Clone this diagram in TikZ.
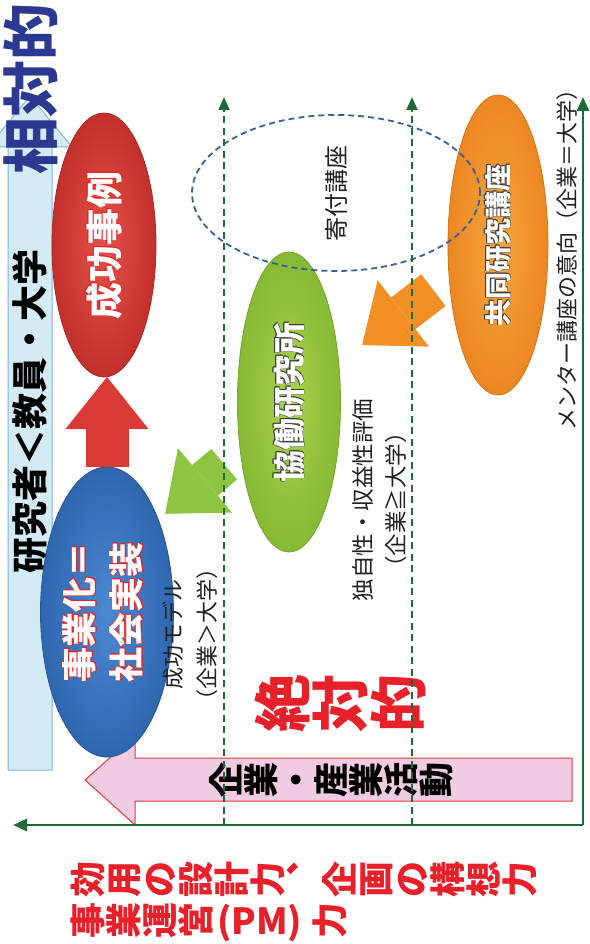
\documentclass[tikz,border=0pt]{standalone}
\usepackage{fontspec}
\usepackage{graphicx}
\newfontfamily\jp{Noto Sans CJK JP}
\usetikzlibrary{shapes.geometric,arrows.meta}

\definecolor{axgreen}{HTML}{1D6B38}
\definecolor{dashblue}{HTML}{3A6098}
\definecolor{lbfill}{HTML}{D3EBF4}
\definecolor{lbline}{HTML}{8AB2DB}
\definecolor{titleblue}{HTML}{2B3990}
\definecolor{zred}{HTML}{E8202A}
\definecolor{pinkfill}{HTML}{EFCCE1}
\definecolor{pinkline}{HTML}{E63A3C}
\definecolor{redin}{HTML}{E4524B}
\definecolor{redout}{HTML}{C3302B}
\definecolor{redline}{HTML}{A92925}
\definecolor{bluein}{HTML}{4C88D2}
\definecolor{blueout}{HTML}{2F66B0}
\definecolor{blueline}{HTML}{285797}
\definecolor{greenin}{HTML}{A7D24C}
\definecolor{greenout}{HTML}{86B934}
\definecolor{greenline}{HTML}{76A52B}
\definecolor{orangein}{HTML}{F8A53C}
\definecolor{orangeout}{HTML}{EC8722}
\definecolor{orangeline}{HTML}{D4761A}
\definecolor{arrred}{HTML}{D93A35}
\definecolor{arrgreen}{HTML}{8EC540}
\definecolor{arrorange}{HTML}{F29026}
\definecolor{olred}{HTML}{EE2222}
\definecolor{oldark}{HTML}{3C3C3C}
\definecolor{txtgray}{HTML}{231F20}

\newlength\olw
\setlength\olw{0.8pt}
\newcommand\outl[2]{\leavevmode\setbox0=\hbox{#2}%
 \rlap{\color{#1}\kern\olw\copy0}%
 \rlap{\color{#1}\kern-\olw\copy0}%
 \rlap{\color{#1}\raise\olw\copy0}%
 \rlap{\color{#1}\lower\olw\copy0}%
 \rlap{\color{#1}\kern.7\olw\raise.7\olw\copy0}%
 \rlap{\color{#1}\kern-.7\olw\raise.7\olw\copy0}%
 \rlap{\color{#1}\kern.7\olw\lower.7\olw\copy0}%
 \rlap{\color{#1}\kern-.7\olw\lower.7\olw\copy0}%
 {\color{white}\copy0}}
\def\rotstr#1{\rotstrA#1\relax}
\def\rotstrA#1{\ifx\relax#1\else\rotatebox[origin=c]{90}{\raisebox{0pt}[0.88em][0.12em]{#1}}\expandafter\rotstrA\fi}

\begin{document}
\begin{tikzpicture}[x=1pt,y=-1pt,
  every node/.style={inner sep=0pt, outer sep=0pt},
  oval/.style={ellipse, line width=0.8pt},
  blockarrow/.style={line width=40pt, draw=#1, -{Triangle[width=84pt,length=52pt,line width=0pt]}},
  axis/.style={draw=axgreen, line width=2.6pt, -{Triangle[length=14pt,width=12pt]}},
  dline/.style={draw=axgreen, line width=2pt, dash pattern=on 7pt off 4.5pt, -{Triangle[length=13pt,width=11pt]}},
  bfs/.style={font=\jp\bfseries\fontsize{#1}{#1}\selectfont},
  rgs/.style={font=\jp\fontsize{#1}{#1}\selectfont, text=txtgray},
]
\useasboundingbox (0,0) rectangle (589,944);

% left light-blue arrow
\draw[fill=lbfill, draw=lbline, line width=1pt]
  (8,770) -- (52,770) -- (52,147) -- (72,147) -- (30,96) -- (-12,147) -- (8,147) -- cycle;
\node[rotate=90, bfs=36, text=black] (kenkyu) at (30,411) {研究者＜教員・大学};
\node[rotate=90, bfs=57, text=titleblue] (sotai) at (31,89) {相対的};

% pink arrow
\draw[fill=pinkfill, draw=pinkline, line width=1pt]
  (135,758) -- (572,758) -- (572,801) -- (135,801) -- (135,825) -- (85,780) -- (135,735) -- cycle;
\node[bfs=35, text=black] (kigyo) at (331,780) {\rotstr{企業・産業活動}};

% ellipses
\node[oval, inner color=redin, outer color=redout, draw=redline,
      minimum width=104pt, minimum height=264pt, bfs=37] (seiko) at (104,245)
      {\rotatebox{90}{\outl{olred}{成功事例}}};
\node[oval, inner color=bluein, outer color=blueout, draw=blueline,
      minimum width=104pt, minimum height=290pt, font=\jp\bfseries\fontsize{35}{47}\selectfont] (jigyo) at (107,612)
      {\rotatebox{90}{\begin{tabular}{@{}c@{}}\outl{olred}{事業化＝}\\\outl{olred}{社会実装}\end{tabular}}};
\node[oval, inner color=greenin, outer color=greenout, draw=greenline,
      minimum width=103pt, minimum height=300pt, bfs=32] (kyodo) at (289,402)
      {\rotatebox{90}{\outl{oldark}{協働研究所}}};
\node[oval, inner color=orangein, outer color=orangeout, draw=orangeline,
      minimum width=100pt, minimum height=300pt, bfs=27] (kyoken) at (498,245)
      {\rotatebox{90}{\outl{oldark}{共同研究講座}}};

% block arrows
\draw[line width=43pt, draw=arrred, -{Triangle[width=83pt,length=52pt,line width=0pt]}]
  (jigyo.north) -- (jigyo.north |- seiko.south);
\draw[blockarrow=arrgreen, shorten <=21pt, shorten >=9pt] (kyodo.225) -- (jigyo.61);
\draw[blockarrow=arrorange, shorten <=20pt, shorten >=29.5pt] (kyoken.214) -- (kyodo.38);

% dashed ellipse
\node[ellipse, draw=dashblue, line width=1.8pt, dash pattern=on 6pt off 4pt,
      minimum width=288pt, minimum height=156pt, rgs=24] (kifu) at (336,193)
      {\rotatebox{90}{寄付講座}};

% texts
\node[rotate=90, rgs=22] (mentor) at (567,254) {メンター講座の意向（企業＝大学）};
\node[rotate=90, align=center, font=\jp\fontsize{22}{34}\selectfont, text=txtgray] (model) at (190,634)
  {成功モデル\\（企業＞大学）};
\node[rotate=90, align=center, font=\jp\fontsize{22.5}{33}\selectfont, text=txtgray] (dokuji) at (380,500)
  {独自性・収益性評価\\（企業≧大学）};
\node[bfs=58, text=zred] (zettai) at (340,703) {\rotstr{絶対的}};
\node[bfs=36, text=zred, anchor=west] (util) at (70,879) {\rotstr{効用の設計力︑企画の構想力}};
\node[bfs=36, text=zred, anchor=west] (pm) at (70,922) {\rotstr{事業運営}\kern3pt(PM)\kern10pt\rotstr{力}};

% axes and dashed lines
\coordinate (origin) at (583,825);
\coordinate (xend) at (13,825);
\coordinate (yend) at (583,97);
\coordinate (d1b) at (224,825);
\coordinate (d1t) at (224,97);
\coordinate (d2b) at (412,825);
\coordinate (d2t) at (412,97);
\draw[axis] (origin) -- (xend);
\draw[axis] (origin) -- (yend);
\draw[dline] (d1b) -- (d1t);
\draw[dline] (d2b) -- (d2t);
\end{tikzpicture}
\end{document}
